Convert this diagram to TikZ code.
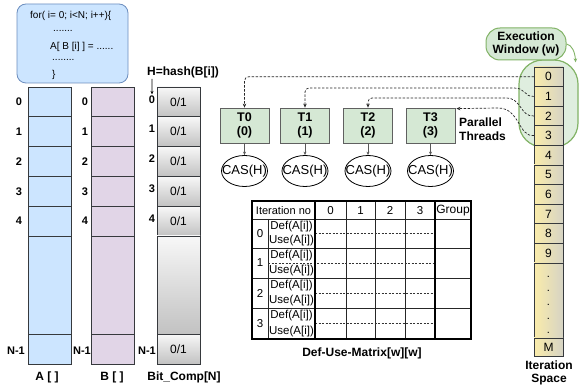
\documentclass[tikz,border=0pt]{standalone}
\usepackage{fontspec}
\setmainfont{Liberation Sans}
\usetikzlibrary{arrows.meta,shapes.geometric,calc}

\definecolor{arrblue}{RGB}{204,229,255}
\definecolor{codeedge}{RGB}{108,142,191}
\definecolor{arrpurple}{RGB}{225,213,231}
\definecolor{thrgreen}{RGB}{213,232,212}
\definecolor{wingreen}{RGB}{130,179,102}
\definecolor{celledge}{RGB}{54,57,61}
\definecolor{itleft}{RGB}{250,236,170}
\definecolor{itright}{RGB}{214,211,196}

\newcommand\bigbold{\fontsize{12}{13.5}\selectfont\bfseries}
\newcommand\idxfont{\fontsize{11}{12}\selectfont\bfseries}
\newcommand\tabfont{\fontsize{11.5}{12}\selectfont}
\newcommand\codefont{\fontsize{10}{11}\selectfont}

\tikzset{
  cell/.style={draw=celledge, line width=0.8pt, inner sep=0pt, outer sep=0pt, minimum width=43pt},
  acell/.style={cell, fill=arrblue},
  bcell/.style={cell, fill=arrpurple},
  ccell/.style={cell, top color=gray!6, bottom color=gray!48, font=\fontsize{12}{12}\selectfont},
  itcell/.style={draw=celledge, line width=0.8pt, inner sep=0pt, outer sep=0pt, minimum width=29pt,
    left color=itleft, right color=itright, font=\fontsize{12}{12}\selectfont},
  idx/.style={font=\idxfont, inner sep=0pt},
  title/.style={font=\bigbold, inner sep=0pt},
  thread/.style={draw=gray!75!black, fill=thrgreen, line width=0.8pt, minimum width=49pt,
    minimum height=35pt, inner sep=0pt, align=center, font=\fontsize{12.5}{14}\selectfont\bfseries},
  cas/.style={ellipse, draw=black, line width=0.8pt, minimum width=46pt, minimum height=31pt,
    inner sep=0pt, font=\fontsize{13}{14}\selectfont},
  short/.style={-{Stealth[length=3.5pt,width=3pt]}, gray!70!black, line width=0.6pt},
  dconn/.style={-{Stealth[length=4pt,width=3.5pt]}, black!85, line width=0.7pt,
    dash pattern=on 2.4pt off 1.6pt},
  thin/.style={line width=0.7pt, black!85},
  thick/.style={line width=1.6pt, black},
  rowdash/.style={line width=0.6pt, black!80, dash pattern=on 2pt off 1.5pt},
  tab/.style={font=\tabfont, inner sep=0pt},
  codeline/.style={font=\codefont, inner sep=0pt, anchor=west},
}

\begin{document}
\begin{tikzpicture}[x=1pt,y=-1pt]
\useasboundingbox (0,0) rectangle (579,390);
\fill[white] (0,0) rectangle (579,390);

% loop body
\node[draw=codeedge, fill=arrblue, rounded corners=9pt, line width=0.8pt,
      minimum width=111pt, minimum height=79pt, inner sep=0pt] (code) at (72.5,43.5) {};
\node[codeline] (code1) at (30,16) {for( i= 0; i<N; i++)\{};
\node[codeline] (code2) at (53,31) {.......};
\node[codeline] (code3) at (50,47) {A[ B [i] ] = ......};
\node[codeline] (code4) at (52,60) {........};
\node[codeline] (code5) at (52,75) {\}};

% arrays A, B and Bit_Comp
\foreach \k/\t/\b in {0/87/116.8, 1/116.8/146.6, 2/146.6/176.4, 3/176.4/206.2, 4/206.2/236, m/236/334, n/334/364} {
  \node[acell, minimum height={\b-\t}, anchor=north] (a\k) at (49.5,\t) {};
  \node[bcell, minimum height={\b-\t}, anchor=north] (b\k) at (112.5,\t) {};
}
\foreach \k/\t/\b in {0/87/116.8, 1/116.8/146.6, 2/146.6/176.4, 3/176.4/206.2, 4/206.2/236, n/334/364} {
  \node[ccell, minimum height={\b-\t}, anchor=north] (c\k) at (178.5,\t) {0/1};
}
\node[ccell, minimum height=98pt, anchor=north] (cm) at (178.5,236) {};

\foreach \k/\y in {0/102, 1/131.7, 2/161.5, 3/191.3, 4/221.1} {
  \node[idx] (al\k) at (19,\y) {\k};
  \node[idx] (bl\k) at (85,\y) {\k};
  \node[idx] (cl\k) at (152,\y-2.5) {\k};
}
\node[idx] (aln) at (16,351) {N-1};
\node[idx] (bln) at (82,351) {N-1};
\node[idx] (cln) at (147,351) {N-1};

\node[title] (atitle) at (47,377) {A [ ]};
\node[title] (btitle) at (112,377) {B [ ]};
\node[title] (ctitle) at (184,377) {Bit\_Comp[N]};

\node[title] (hash) at (183,72) {H=hash(B[i])};
\draw[short, black] ([xshift=5pt,yshift=-1pt]hash.south west) -- ([yshift=1pt]cl0.north);

% execution window and iteration space
\node[draw=wingreen, fill=thrgreen!75, rounded corners=24pt, line width=1.2pt,
      minimum width=59pt, minimum height=87pt, inner sep=0pt] (ew) at (548.5,103.5) {};
\node[draw=wingreen, fill=thrgreen, rounded corners=14pt, line width=1pt,
      minimum width=80pt, minimum height=32pt, inner sep=0pt, align=center, font=\bigbold]
      (ewl) at (526,44) {Execution\\Window (w)};
\draw[wingreen, line width=0.9pt, -{Stealth[length=4pt,width=3.5pt]}]
      (ewl.east) .. controls (572,45) and (575,52) .. ([xshift=-3pt,yshift=-3pt]ew.north east);

\foreach \k in {0,...,9} {
  \node[itcell, minimum height=19.6pt, anchor=north] (it\k) at (548.5,{67+19.6*\k}) {\k};
}
\node[itcell, minimum height=75pt, anchor=north] (itdots) at (548.5,263) {};
\node[itcell, minimum height=18pt, anchor=north] (itm) at (548.5,338) {M};
\foreach \y [count=\j] in {278,292,306,320,334} {
  \node[font=\fontsize{11}{12}\selectfont, inner sep=0pt, anchor=base] (dot\j) at (548.5,\y) {.};
}
\node[font=\bigbold, align=center, inner sep=0pt] (itspace) at (549,373) {Iteration\\Space};

% parallel threads
\foreach \k/\x in {0/244.5, 1/305, 2/368, 3/430.5} {
  \node[thread] (t\k) at (\x,125.5) {T\k\\(\k)};
  \node[cas] (cas\k) at (\x,171) {\makebox[0pt]{CAS(H)}};
  \draw[short] (t\k) -- (cas\k);
}
\node[font=\bigbold, align=left, inner sep=0pt, anchor=west] (par) at (459,129) {Parallel\\Threads};

% iterations handed to threads
\draw[dconn, rounded corners=4pt] (it0.west) -| (t0.north);
\draw[dconn, rounded corners=4pt] (it1.west) .. controls (524,97) and (526,88) .. (510,88) -| (t1.north);
\draw[dconn, rounded corners=4pt] (it2.west) .. controls (520,117) and (522,98) .. (502,98) -| (t2.north);
\draw[dconn] (it3.west) .. controls (518,137) and (520,108) .. (498,108) -- ([xshift=1pt,yshift=-1pt]t3.north east);

% Def-Use matrix
\foreach \x in {346,375,405} \draw[thin] (\x,201) -- (\x,339);
\draw[thin] (268,219) -- (268,339);
\foreach \y in {219,248,278,308} \draw[thin] (252,\y) -- (471,\y);
\draw[rowdash] (315,233.5) -- (435,233.5);
\draw[rowdash] (268,263) -- (435,263);
\draw[rowdash] (315,293) -- (435,293);
\draw[rowdash] (315,323.5) -- (435,323.5);
\draw[thick] (252,201) rectangle (471,339);
\draw[thick] (252,201) rectangle (315,339);
\draw[thick] (435,201) rectangle (471,339);

\node[tab, font=\fontsize{11}{12}\selectfont] (hdit) at (283.5,210.5) {Iteration no};
\foreach \k/\x in {0/330.5, 1/360.5, 2/390, 3/420} {
  \node[tab] (hd\k) at (\x,210.5) {\k};
}
\node[tab, font=\fontsize{12}{12}\selectfont] (hdgrp) at (453,211) {Group};
\foreach \k/\t/\b in {0/219/248, 1/248/278, 2/278/308, 3/308/339} {
  \node[tab] (rn\k) at (260,{(\t+\b)/2}) {\k};
  \node[tab] (def\k) at (291.5,\t+7.5) {Def(A[i])};
  \node[tab] (use\k) at (291.5,\b-7.5) {Use(A[i])};
}
\node[title] (dumtitle) at (362,353) {Def-Use-Matrix[w][w]};
\end{tikzpicture}
\end{document}
